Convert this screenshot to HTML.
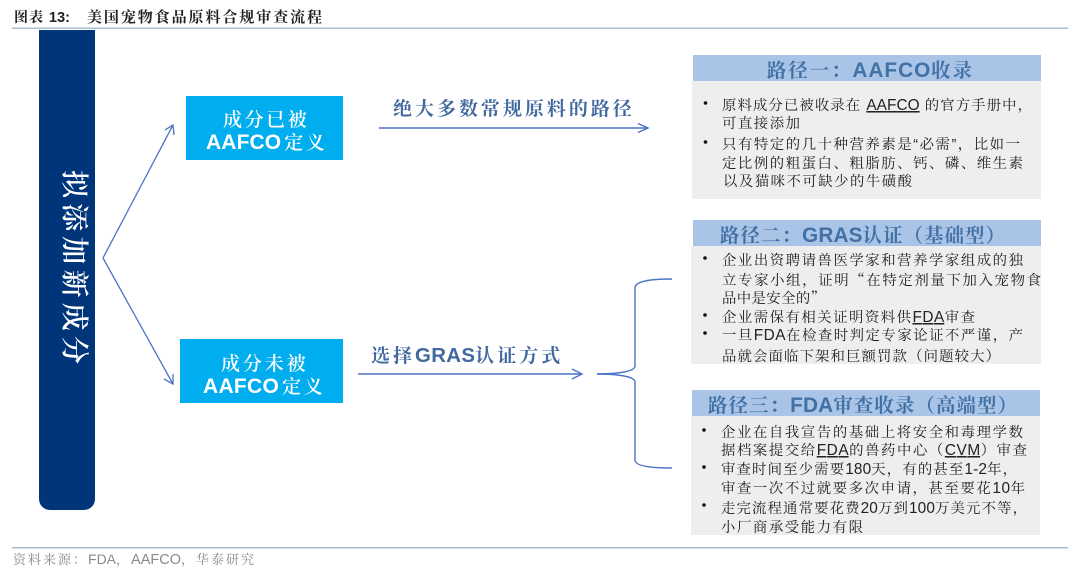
<!DOCTYPE html>
<html lang="zh">
<head>
<meta charset="utf-8">
<title>美国宠物食品原料合规审查流程</title>
<style>
html,body{margin:0;padding:0;background:#fff;width:1080px;height:572px;overflow:hidden}
svg{display:block}
text{font-family:"Liberation Sans","Noto Serif CJK SC",serif;white-space:pre}
.b{font-size:14.4px;fill:#222;letter-spacing:1px}
.b .a{font-size:15.4px;letter-spacing:0}
.b .q{font-family:"Noto Serif CJK SC",serif}
.h{font-size:19.4px;fill:#4271a6;font-weight:700;letter-spacing:1px}
.h .a{font-weight:700;font-size:20.8px;letter-spacing:0}
.w{font-size:19px;fill:#fff;font-weight:600;letter-spacing:2.3px}
.w .a{font-weight:700;font-size:21px;letter-spacing:0}
.l{font-size:19px;fill:#41699f;font-weight:700;letter-spacing:2.7px}
.l .a{font-weight:700;font-size:20.4px;letter-spacing:0}
.u{text-decoration:underline}
</style>
</head>
<body>
<svg width="1080" height="572" viewBox="0 0 1080 572" xmlns="http://www.w3.org/2000/svg">
<rect width="1080" height="572" fill="#fff"/>

<!-- title -->
<text x="14" y="22" font-size="14" font-weight="700" fill="#222" letter-spacing="1">图表 <tspan font-size="14.6" letter-spacing="0">13:</tspan></text>
<text x="87" y="22" font-size="15" font-weight="700" fill="#222" textLength="235">美国宠物食品原料合规审查流程</text>
<rect x="12" y="27.5" width="1056" height="1.4" fill="#a6b9d6"/>

<!-- left bar -->
<path d="M39 30H95V499a11 11 0 0 1-11 11H50a11 11 0 0 1-11-11Z" fill="#00357a"/>
<text transform="translate(65,170) rotate(90)" font-size="28" font-weight="600" fill="#fff" textLength="194">拟添加新成分</text>

<!-- fan arrows -->
<g fill="none" stroke="#4a74c4" stroke-width="1.3">
<path d="M103 258L173 125"/>
<path d="M165 130L173 125L174 135"/>
<path d="M103 258L173 384"/>
<path d="M164 379L173 384L173 374"/>
</g>

<!-- boxes -->
<rect x="186" y="96" width="157" height="64" fill="#00aeef"/>
<text class="w" x="223" y="126" textLength="86">成分已被</text>
<text class="w" x="206" y="149" textLength="121"><tspan class="a">AAFCO</tspan><tspan dx="3">定义</tspan></text>
<rect x="180" y="339" width="163" height="64" fill="#00aeef"/>
<text class="w" x="221" y="370" textLength="87">成分未被</text>
<text class="w" x="203" y="393" textLength="122"><tspan class="a">AAFCO</tspan><tspan dx="3">定义</tspan></text>

<!-- arrow labels -->
<text class="l" x="393" y="115" textLength="241.5">绝大多数常规原料的路径</text>
<g fill="none" stroke="#4a74c4" stroke-width="1.4">
<path d="M379 128H648"/>
<path d="M638 123.5L648 128L638 132.5"/>
<path d="M358 374H582"/>
<path d="M572 369L582 374L572 379"/>
<path d="M597 374C615 374 635 372 635 366V288C635 281 650 279 672 279"/>
<path d="M597 374C615 374 635 376 635 382V460C635 466 650 468 672 468"/>
</g>
<text class="l" x="371" y="362" textLength="192">选择<tspan class="a">GRAS</tspan>认证方式</text>

<!-- panel 1 -->
<rect x="692" y="81" width="349" height="118" fill="#eeeeee"/>
<rect x="693" y="55" width="348" height="26" fill="#a9c4e6"/>
<text class="h" x="767" y="77" textLength="206">路径一：<tspan class="a">AAFCO</tspan>收录</text>
<circle cx="705.5" cy="103" r="1.8" fill="#111"/>
<text class="b" x="722" y="110" textLength="311">原料成分已被收录在 <tspan class="a u">AAFCO</tspan> 的官方手册中，</text>
<text class="b" x="722" y="128" textLength="79">可直接添加</text>
<circle cx="705.5" cy="142" r="1.8" fill="#111"/>
<text class="b" x="722" y="149" textLength="299">只有特定的几十种营养素是“必需”，比如一</text>
<text class="b" x="722" y="168" textLength="302">定比例的粗蛋白、粗脂肪、钙、磷、维生素</text>
<text class="b" x="723" y="186" textLength="190">以及猫咪不可缺少的牛磺酸</text>

<!-- panel 2 -->
<rect x="691" y="246" width="350" height="118" fill="#eeeeee"/>
<rect x="693" y="220" width="348" height="26" fill="#a9c4e6"/>
<text class="h" x="720" y="242" textLength="286">路径二：<tspan class="a">GRAS</tspan>认证（基础型）</text>
<circle cx="705" cy="258" r="1.8" fill="#111"/>
<text class="b" x="722" y="265" textLength="302">企业出资聘请兽医学家和营养学家组成的独</text>
<text class="b" x="722" y="285" textLength="320">立专家小组，证明<tspan class="q">“</tspan>在特定剂量下加入宠物食</text>
<text class="b" x="722" y="303" textLength="104">品中是安全的<tspan class="q">”</tspan></text>
<circle cx="705" cy="315" r="1.8" fill="#111"/>
<text class="b" x="722" y="322" textLength="254">企业需保有相关证明资料供<tspan class="a u">FDA</tspan>审查</text>
<circle cx="705" cy="333" r="1.8" fill="#111"/>
<text class="b" x="722" y="340" textLength="302">一旦<tspan class="a">FDA</tspan>在检查时判定专家论证不严谨，产</text>
<text class="b" x="722" y="361" textLength="279">品就会面临下架和巨额罚款（问题较大）</text>

<!-- panel 3 -->
<rect x="691" y="416" width="349" height="119" fill="#eeeeee"/>
<rect x="692" y="390" width="348" height="26" fill="#a9c4e6"/>
<text class="h" x="708" y="412" textLength="310">路径三：<tspan class="a">FDA</tspan>审查收录（高端型）</text>
<circle cx="704" cy="430" r="1.8" fill="#111"/>
<text class="b" x="721" y="437" textLength="303">企业在自我宣告的基础上将安全和毒理学数</text>
<text class="b" x="721" y="455" textLength="307">据档案提交给<tspan class="a u">FDA</tspan>的兽药中心（<tspan class="a u">CVM</tspan>）审查</text>
<circle cx="704" cy="467" r="1.8" fill="#111"/>
<text class="b" x="721" y="474" textLength="297">审查时间至少需要<tspan class="a">180</tspan>天，有的甚至<tspan class="a">1-2</tspan>年，</text>
<text class="b" x="721" y="493" textLength="305">审查一次不过就要多次申请，甚至要花<tspan class="a">10</tspan>年</text>
<circle cx="704" cy="505" r="1.8" fill="#111"/>
<text class="b" x="721" y="513" textLength="307">走完流程通常要花费<tspan class="a">20</tspan>万到<tspan class="a">100</tspan>万美元不等，</text>
<text class="b" x="721" y="532" textLength="143">小厂商承受能力有限</text>

<!-- footer -->
<rect x="12" y="547" width="1056" height="1.4" fill="#a6b9d6"/>
<text x="13" y="564" font-size="13" fill="#8a8a8a" letter-spacing="2">资料来源：<tspan font-size="14" letter-spacing="0">FDA</tspan>，<tspan font-size="14.5" letter-spacing="0">AAFCO</tspan>，华泰研究</text>
</svg>
</body>
</html>
